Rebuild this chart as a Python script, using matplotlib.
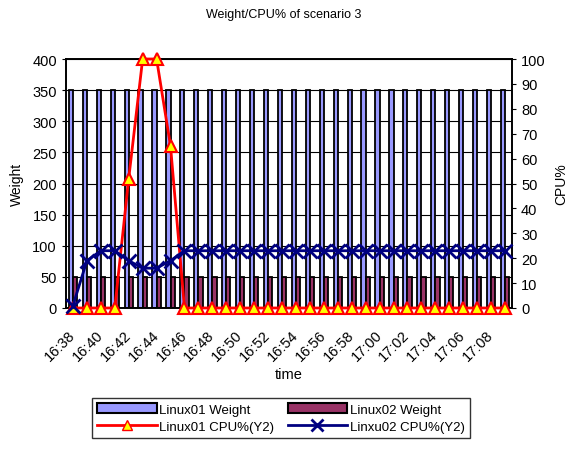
import matplotlib
matplotlib.use("Agg")
import matplotlib.pyplot as plt
import matplotlib.transforms as mtransforms
import numpy as np
from matplotlib.patches import Patch
from matplotlib.lines import Line2D

plt.rcParams['font.family'] = ['Liberation Sans', 'DejaVu Sans']

times = ["16:38", "16:39", "16:40", "16:41", "16:42", "16:43", "16:44", "16:45",
         "16:46", "16:47", "16:48", "16:49", "16:50", "16:51", "16:52", "16:53",
         "16:54", "16:55", "16:56", "16:57", "16:58", "16:59", "17:00", "17:01",
         "17:02", "17:03", "17:04", "17:05", "17:06", "17:07", "17:08", "17:09"]
linux01_weight = [350, 350, 350, 350, 350, 350, 350, 350, 350, 350, 350, 350, 350, 350, 350, 350,
                  350, 350, 350, 350, 350, 350, 350, 350, 350, 350, 350, 350, 350, 350, 350, 350]
linux02_weight = [50, 50, 50, 50, 50, 50, 50, 50, 50, 50, 50, 50, 50, 50, 50, 50,
                  50, 50, 50, 50, 50, 50, 50, 50, 50, 50, 50, 50, 50, 50, 50, 50]
linux01_cpu = [0, 0, 0, 0, 52, 100, 100, 65, 0, 0, 0, 0, 0, 0, 0, 0,
               0, 0, 0, 0, 0, 0, 0, 0, 0, 0, 0, 0, 0, 0, 0, 0]
linux02_cpu = [1, 19, 23, 23, 19, 16, 16, 19, 23, 23, 23, 23, 23, 23, 23, 23,
               23, 23, 23, 23, 23, 23, 23, 23, 23, 23, 23, 23, 23, 23, 23, 23]

fig = plt.figure(figsize=(5.68, 4.52), dpi=100)
ax = fig.add_axes([66/568, 1-309/452, (512-66)/568, (309-60)/452])
ax2 = ax.twinx()

x = np.arange(len(times))
bw = 0.3
ax.bar(x - bw/2, linux01_weight, width=bw, color='#9999ff', edgecolor='black', linewidth=1.3, zorder=2)
ax.bar(x + bw/2, linux02_weight, width=bw, color='#993366', edgecolor='black', linewidth=1.3, zorder=2)
ax.set_xlim(-0.5, len(times) - 0.5)
ax.set_ylim(0, 400)
ax.set_yticks(np.arange(0, 401, 50))
ax.yaxis.grid(True, color='black', linewidth=0.8, zorder=0)
ax.set_axisbelow(True)

ax2.plot(x, linux01_cpu, color='red', linewidth=2, marker='^', markersize=9,
         markerfacecolor='yellow', markeredgecolor='red', markeredgewidth=1.5, zorder=3, clip_on=False)
ax2.plot(x, linux02_cpu, color='#000080', linewidth=2, marker='x', markersize=10,
         markeredgewidth=2, zorder=4, clip_on=False)
ax2.set_ylim(0, 100)
ax2.set_yticks(np.arange(0, 101, 10))

ax.set_xticks(x[::2])
ax.set_xticklabels(times[::2], rotation=45, ha='right', va='top', rotation_mode='anchor', fontsize=10.5)
ax.tick_params(axis='x', length=0, pad=14)
offset = mtransforms.ScaledTranslation(-5/100, 0, fig.dpi_scale_trans)
for lbl in ax.get_xticklabels():
    lbl.set_transform(lbl.get_transform() + offset)
ax.tick_params(axis='y', labelsize=10.5, direction='out', length=3)
ax2.tick_params(axis='y', labelsize=10.5, direction='out', length=3)
for a in (ax, ax2):
    for s in a.spines.values():
        s.set_color('black')
        s.set_linewidth(1.2)

ax.set_ylabel("Weight", fontsize=10, labelpad=6)
ax2.set_ylabel("CPU%", fontsize=10, labelpad=6)
ax.set_xlabel("time", fontsize=10.5, labelpad=3)
fig.suptitle("Weight/CPU% of scenario 3", fontsize=9, y=1-9/452)

handles = [Patch(facecolor='#9999ff', edgecolor='black', linewidth=1.5),
           Patch(facecolor='#993366', edgecolor='black', linewidth=1.5),
           Line2D([], [], color='red', linewidth=2, marker='^', markersize=7,
                  markerfacecolor='yellow', markeredgecolor='red'),
           Line2D([], [], color='#000080', linewidth=2, marker='x', markersize=8, markeredgewidth=2)]
labels = ["Linux01 Weight", "Linux02 Weight", "Linux01 CPU%(Y2)", "Linxu02 CPU%(Y2)"]
order = [0, 2, 1, 3]
leg = fig.legend([handles[i] for i in order], [labels[i] for i in order], ncol=2,
                 loc='upper center', bbox_to_anchor=(281/568, 1-399/452), fontsize=9.5,
                 frameon=True, fancybox=False, edgecolor='black', handlelength=4.5,
                 handletextpad=0.2, columnspacing=1.0, borderpad=0.4, labelspacing=0.4,
                 borderaxespad=0)
leg.get_frame().set_linewidth(1.0)

fig.savefig("out.png", dpi=100)
